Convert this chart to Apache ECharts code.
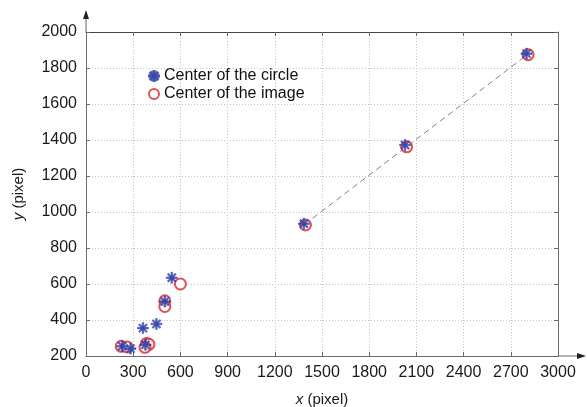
<!DOCTYPE html>
<html>
<head>
<meta charset="utf-8">
<script src="https://cdn.jsdelivr.net/npm/echarts@6/dist/echarts.min.js"></script>
<style>html,body{margin:0;padding:0;background:#fff}#c{width:587px;height:407px}</style>
</head>
<body>
<div id="c"></div>
<script>
const xTicks = [0, 300, 600, 900, 1200, 1500, 1800, 2100, 2400, 2700, 3000];
const yTicks = [200, 400, 600, 800, 1000, 1200, 1400, 1600, 1800, 2000];
const circleCenterX = [230, 283, 362, 448, 501, 545, 378, 1385, 2028, 2800];
const circleCenterY = [254, 241, 355, 378, 503, 635, 262, 935, 1372, 1880];
const imageCenterX = [224, 262, 385, 400, 375, 501, 501, 600, 1395, 2038, 2810];
const imageCenterY = [254, 250, 270, 265, 248, 507, 475, 600, 928, 1362, 1874];
const fitLineX = [1390, 2810];
const fitLineY = [932, 1877];
const seriesNames = ['Center of the circle', 'Center of the image'];

const starPath = 'path://M-1.5,-10L1.5,-10L1.5,10L-1.5,10Z M-10,-1.5L10,-1.5L10,1.5L-10,1.5Z M-8.13,-6.01L-6.01,-8.13L8.13,6.01L6.01,8.13Z M6.01,-8.13L8.13,-6.01L-6.01,8.13L-8.13,6.01Z';
const FONT = '"Liberation Sans", Arial, sans-serif';
const zip = (a, b) => a.map((v, i) => [v, b[i]]);
const plain = v => String(v);

const chart = echarts.init(document.getElementById('c'), null, {renderer: 'canvas'});
const gridL = 86, gridR = 558, gridT = 32, gridB = 356;
const axisCol = '#6a6a6a';
chart.setOption({
  animation: false,
  backgroundColor: '#fff',
  grid: {left: gridL, right: 587 - gridR, top: gridT, bottom: 407 - gridB, outerBoundsMode: 'none', containLabel: false},
  legend: {
    left: 143, top: 63, orient: 'vertical', itemGap: 2,
    itemWidth: 10, itemHeight: 10,
    textStyle: {fontFamily: FONT, fontSize: 16, color: '#111'},
    data: [
      {name: seriesNames[0], icon: starPath},
      {name: seriesNames[1], icon: 'emptyCircle'}
    ]
  },
  xAxis: [{
    type: 'value', min: xTicks[0], max: xTicks[xTicks.length - 1], interval: 300,
    axisLine: {show: true, onZero: false, lineStyle: {color: axisCol}},
    axisTick: {show: true, inside: true, length: 4, lineStyle: {color: axisCol}},
    axisLabel: {fontFamily: FONT, fontSize: 16, color: '#1a1a1a', margin: 9, formatter: plain},
    splitLine: {show: true, lineStyle: {type: [1, 2], color: '#c4c4c4'}},
    name: '{i|x} (pixel)', nameLocation: 'middle', nameGap: 36,
    nameTextStyle: {fontFamily: FONT, fontSize: 15, color: '#1a1a1a',
      rich: {i: {fontStyle: 'italic', fontFamily: FONT, fontSize: 15, color: '#1a1a1a'}}}
  }, {
    type: 'value', position: 'top', min: xTicks[0], max: xTicks[xTicks.length - 1], interval: 300,
    axisLine: {show: true, onZero: false, lineStyle: {color: '#444'}},
    axisTick: {show: true, inside: true, length: 4, lineStyle: {color: axisCol}},
    axisLabel: {show: false}, splitLine: {show: false}
  }],
  yAxis: [{
    type: 'value', min: yTicks[0], max: yTicks[yTicks.length - 1], interval: 200,
    axisLine: {show: true, onZero: false, lineStyle: {color: axisCol}},
    axisTick: {show: true, inside: true, length: 4, lineStyle: {color: axisCol}},
    axisLabel: {fontFamily: FONT, fontSize: 16, color: '#1a1a1a', margin: 9, formatter: plain},
    splitLine: {show: true, lineStyle: {type: [1, 2], color: '#c4c4c4'}},
    name: '{i|y} (pixel)', nameLocation: 'middle', nameGap: 60, nameRotate: 90,
    nameTextStyle: {fontFamily: FONT, fontSize: 15, color: '#1a1a1a',
      rich: {i: {fontStyle: 'italic', fontFamily: FONT, fontSize: 15, color: '#1a1a1a'}}}
  }, {
    type: 'value', position: 'right', min: yTicks[0], max: yTicks[yTicks.length - 1], interval: 200,
    axisLine: {show: true, onZero: false, lineStyle: {color: axisCol}},
    axisTick: {show: true, inside: true, length: 4, lineStyle: {color: axisCol}},
    axisLabel: {show: false}, splitLine: {show: false}
  }],
  series: [{
    type: 'line', data: zip(fitLineX, fitLineY), symbol: 'none', silent: true,
    lineStyle: {color: '#80809a', width: 1, type: [6, 4]}, z: 1
  }, {
    name: seriesNames[0], type: 'scatter', data: zip(circleCenterX, circleCenterY),
    symbol: starPath, symbolSize: 11,
    itemStyle: {color: '#2f3ea6', borderColor: '#2f3ea6', borderWidth: 0.6}, z: 3
  }, {
    name: seriesNames[1], type: 'scatter', data: zip(imageCenterX, imageCenterY),
    symbol: 'emptyCircle', symbolSize: 11,
    itemStyle: {color: '#d8262a', borderColor: '#d8262a', borderWidth: 1.8}, z: 2
  }],
  graphic: [
    {type: 'line', shape: {x1: gridL, y1: gridT, x2: gridL, y2: 15}, style: {stroke: axisCol, lineWidth: 1}},
    {type: 'polygon', shape: {points: [[gridL, 10], [gridL - 3, 19], [gridL + 3, 19]]}, style: {fill: '#222'}},
    {type: 'line', shape: {x1: gridR, y1: gridB, x2: 580, y2: gridB}, style: {stroke: axisCol, lineWidth: 1}},
    {type: 'polygon', shape: {points: [[586, gridB], [577, gridB - 3], [577, gridB + 3]]}, style: {fill: '#222'}}
  ]
});
</script>
</body>
</html>
